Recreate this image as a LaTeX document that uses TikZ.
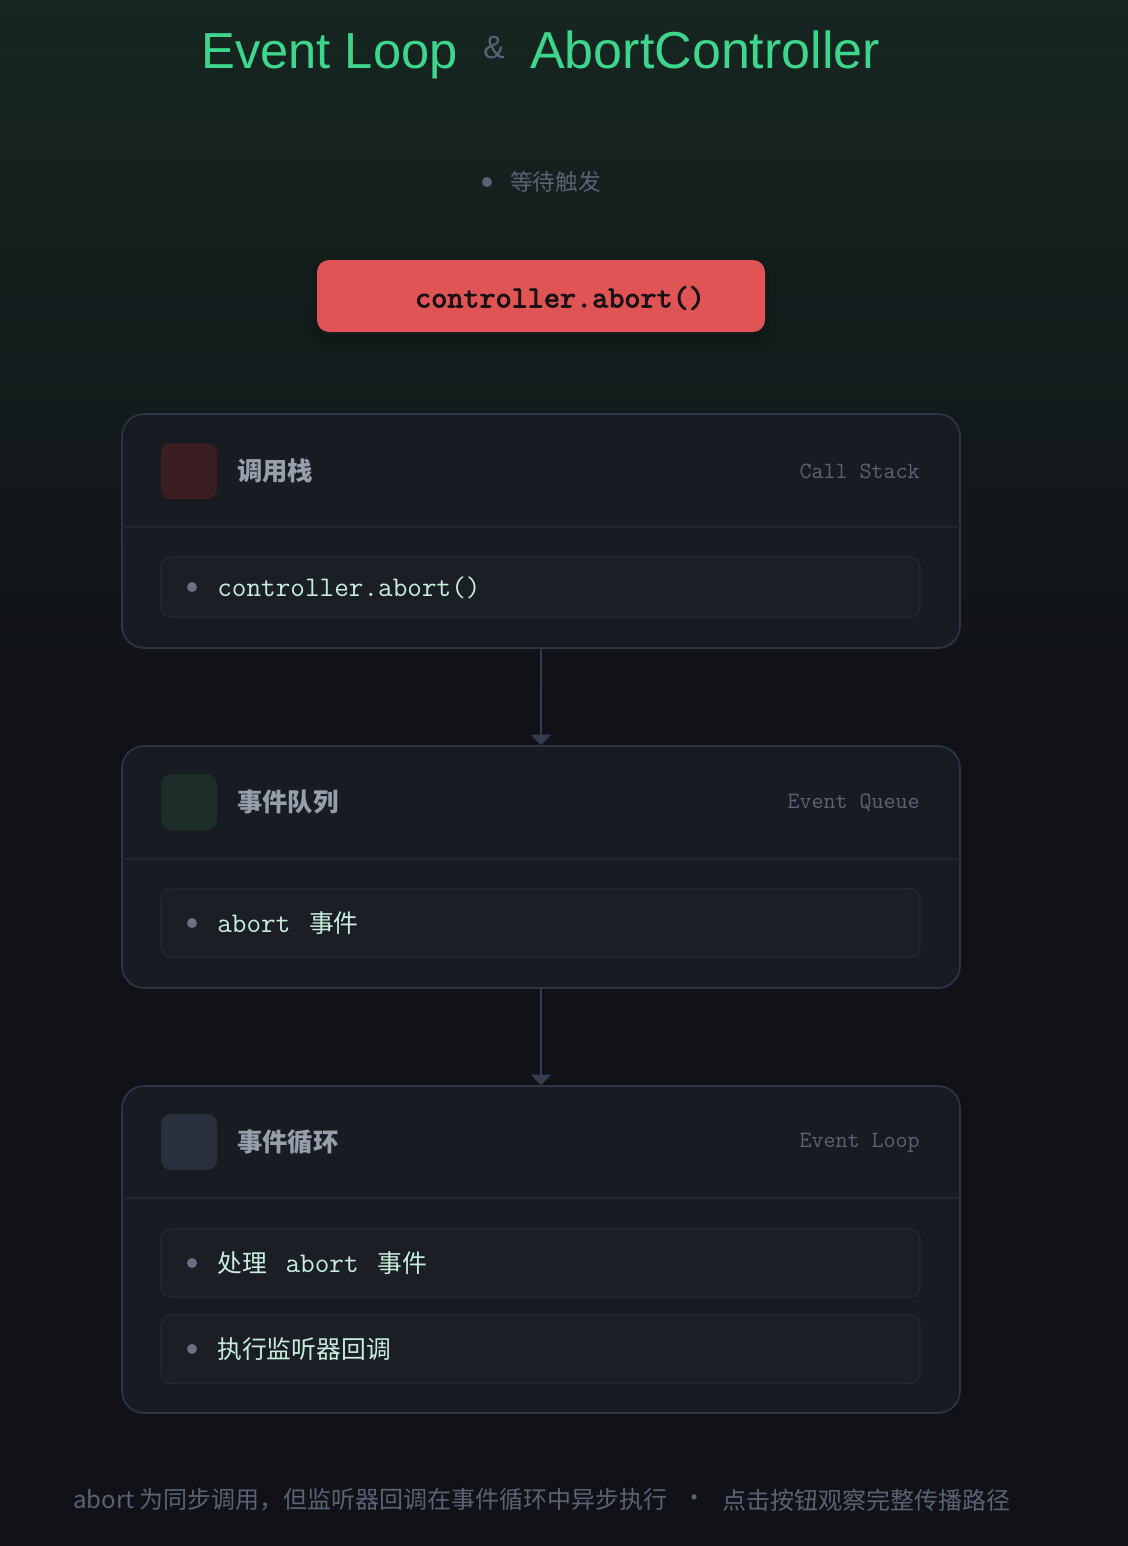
\documentclass[tikz,border=0pt]{standalone}
\usepackage{fontspec}
\setmainfont{Liberation Sans}
\newfontfamily\cjk{Noto Sans CJK SC}
\newfontfamily\monobold{lmmono10-regular.otf}[FakeBold=2.5]
\newcommand{\mono}{\ttfamily}
\usetikzlibrary{positioning,arrows.meta}

\definecolor{bgtop}{RGB}{22,38,33}
\definecolor{bgbot}{RGB}{17,18,23}
\definecolor{accent}{RGB}{61,214,140}
\definecolor{muted}{RGB}{90,98,117}
\definecolor{btnred}{RGB}{224,84,86}
\definecolor{btntext}{RGB}{24,18,20}
\definecolor{panelfill}{RGB}{24,28,34}
\definecolor{panelline}{RGB}{46,53,70}
\definecolor{divider}{RGB}{34,38,46}
\definecolor{itemfill}{RGB}{27,30,36}
\definecolor{itemline}{RGB}{38,42,50}
\definecolor{heading}{RGB}{152,159,172}
\definecolor{mint}{RGB}{200,238,222}
\definecolor{dotgray}{RGB}{106,112,130}
\definecolor{arrowc}{RGB}{52,61,80}
\definecolor{iconred}{RGB}{58,30,34}
\definecolor{icongreen}{RGB}{28,46,39}
\definecolor{iconblue}{RGB}{42,47,62}

\tikzset{
  panel/.style={draw=panelline, line width=1.2pt, fill=panelfill,
    rounded corners=16.5pt, minimum width=628.5pt, inner sep=0pt},
  item/.style={draw=itemline, line width=0.8pt, fill=itemfill,
    rounded corners=7.5pt, minimum width=569.25pt, inner sep=0pt},
  icon/.style={minimum size=42pt, rounded corners=7.5pt, inner sep=0pt},
  heading/.style={anchor=west, inner sep=0pt, text=heading,
    font=\cjk\bfseries\fontsize{19}{23}\selectfont},
  engl/.style={anchor=east, inner sep=0pt, text=muted,
    font=\mono\fontsize{17.5}{20}\selectfont},
  entry/.style={anchor=west, inner sep=0pt, text=mint,
    font=\fontsize{18.6}{22}\selectfont},
  bullet/.style={circle, fill=dotgray, minimum size=7.5pt, inner sep=0pt},
  divline/.style={draw=divider, line width=0.8pt},
  flow/.style={draw=arrowc, line width=2.2pt,
    -{Triangle[width=15pt,length=8pt]}},
  note/.style={anchor=west, inner sep=0pt, text=muted,
    font=\cjk\fontsize{18}{22}\selectfont}
}

\begin{document}
\begin{tikzpicture}[x=0.75pt, y=-0.75pt]
  % background
  \useasboundingbox (0,0) rectangle (1128,1546);
  \fill[bgbot] (0,0) rectangle (1128,1546);
  \shade[top color=bgtop, bottom color=bgbot] (0,0) rectangle (1128,700);

  % title
  \node[anchor=base west, inner sep=0pt, text=accent, font=\fontsize{38}{44}\selectfont]
    (titleA) at (201,68) {Event Loop};
  \node[inner sep=0pt, text=muted, font=\fontsize{24}{28}\selectfont]
    (amp) at (494,48) {\&};
  \node[anchor=base west, inner sep=0pt, text=accent, font=\fontsize{39}{44}\selectfont]
    (titleB) at (530,68) {AbortController};

  % status
  \node[bullet, fill=muted] (statusdot) at (487,182) {};
  \node[anchor=west, inner sep=0pt, text=muted, font=\cjk\fontsize{17}{20}\selectfont]
    (status) at (510,182) {等待触发};

  % trigger button
  \foreach \g/\o in {16/0.02,10/0.03,5/0.04}
    \fill[black, opacity=\o, rounded corners=12pt]
      (317-\g,260-\g+6) rectangle (765+\g,332+\g+6);
  \node[fill=btnred, rounded corners=9pt, minimum width=336pt, minimum height=54pt,
    inner sep=0pt] (trigger) at (541,296) {};
  \node[inner sep=0pt, text=btntext, font=\monobold\fontsize{23}{26}\selectfont]
    (triggerlabel) at (560,298) {controller.abort()};

  % panels
  \node[panel, minimum height=175.5pt] (stack) at (541,531) {};
  \node[panel, minimum height=181.5pt] (queue) at (541,867) {};
  \node[panel, minimum height=245.25pt] (loop) at (541,1249.5) {};

  \draw[divline] (122,527) -- (960,527);
  \draw[divline] (122,859) -- (960,859);
  \draw[divline] (122,1198) -- (960,1198);

  % call stack
  \node[icon, fill=iconred] (stackicon) at (189,471) {};
  \node[heading] (stackhead) at (237,471) {调用栈};
  \node[engl] (stackname) at (920,471) {Call Stack};
  \node[item, minimum height=45pt] (stackitem) at (540.5,587) {};
  \node[bullet] (stackdot) at (192,587) {};
  \node[entry, font=\mono\fontsize{21.3}{24}\selectfont] (stacktext) at (217,588)
    {controller.abort()};

  % event queue
  \node[icon, fill=icongreen] (queueicon) at (189,802) {};
  \node[heading] (queuehead) at (237,802) {事件队列};
  \node[engl] (queuename) at (920,803) {Event Queue};
  \node[item, minimum height=51pt] (queueitem) at (540.5,923) {};
  \node[bullet] (queuedot) at (192,923) {};
  \node[entry] (queuetext) at (217,923)
    {{\mono\fontsize{21.3}{24}\selectfont abort}\hspace{14pt}{\cjk 事件}};

  % event loop
  \node[icon, fill=iconblue] (loopicon) at (189,1142) {};
  \node[heading] (loophead) at (237,1142) {事件循环};
  \node[engl] (loopname) at (920,1143) {Event Loop};
  \node[item, minimum height=51pt] (loopitemA) at (540.5,1263) {};
  \node[bullet] (loopdotA) at (192,1263) {};
  \node[entry] (looptextA) at (217,1263)
    {{\cjk 处理}\hspace{14pt}{\mono\fontsize{21.3}{24}\selectfont abort}\hspace{14pt}{\cjk 事件}};
  \node[item, minimum height=51pt] (loopitemB) at (540.5,1349) {};
  \node[bullet] (loopdotB) at (192,1349) {};
  \node[entry, font=\cjk\fontsize{18.6}{22}\selectfont] (looptextB) at (217,1349)
    {执行监听器回调};

  % connectors
  \draw[flow] (stack.south) -- (queue.north);
  \draw[flow] (queue.south) -- (loop.north);

  % footer
  \node[note] (noteA) at (73,1500) {abort 为同步调用，但监听器回调在事件循环中异步执行};
  \node[note, anchor=center] (notesep) at (694,1501) {•};
  \node[note] (noteB) at (722,1500) {点击按钮观察完整传播路径};
\end{tikzpicture}
\end{document}
